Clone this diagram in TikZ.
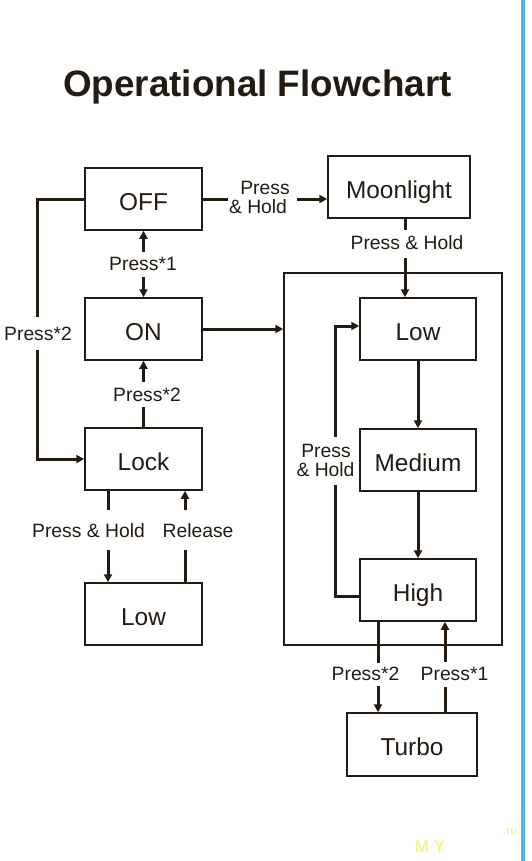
\documentclass[tikz,border=0pt]{standalone}
\usepackage{fontspec}
\setmainfont{Liberation Sans}
\usetikzlibrary{arrows.meta}
\definecolor{ink}{RGB}{35,27,18}
\definecolor{edgeblue}{RGB}{84,180,228}
\definecolor{wm}{RGB}{250,240,140}
\begin{document}
\begin{tikzpicture}[x=1pt,y=-1pt,
  box/.style={draw=ink, line width=1.5pt, minimum width=117pt, minimum height=62pt, inner sep=0pt,
    font=\fontsize{24.4}{24}\selectfont, text=ink, text height=22pt, text depth=0pt},
  lbl/.style={anchor=base, font=\fontsize{19.3}{19}\selectfont, text=ink, inner sep=0pt},
  conn/.style={draw=ink, line width=3pt},
  arr/.style={conn, -{Triangle[length=8pt,width=8pt]}},
]
\useasboundingbox (0,0) rectangle (532,861);
\fill[white] (0,0) rectangle (532,861);
\fill[edgeblue] (521,0) rectangle (525,861);

\node[anchor=base, text=ink, inner sep=0pt, font=\fontsize{36.8}{37}\selectfont\bfseries] (title) at (257.5,97) {Operational Flowchart};

% boxes
\node[box] (off) at (143.5,199) {OFF};
\node[box] (on) at (143.5,329) {ON};
\node[box] (lock) at (143.5,459) {Lock};
\node[box] (lowl) at (143.5,614) {Low};
\node[box, minimum width=142pt] (moon) at (399,187) {Moonlight};
\node[draw=ink, line width=1.5pt, minimum width=218pt, minimum height=372pt, inner sep=0pt] (grp) at (393,459) {};
\node[box, minimum width=116pt] (lowr) at (418,329) {Low};
\node[box, minimum width=116pt] (med) at (418,460) {Medium};
\node[box, minimum width=116pt] (high) at (418,590) {High};
\node[box, minimum width=130pt, minimum height=63pt] (turbo) at (412,744.5) {Turbo};

% labels
\node[lbl] (l1) at (143,270) {Press*1};
\node[lbl] (l2) at (38,340) {Press*2};
\node[lbl] (l3) at (147,401) {Press*2};
\node[lbl] (l4) at (88.5,537) {Press \& Hold};
\node[lbl] (l5) at (198,537) {Release};
\node[lbl] (l6a) at (265,194) {Press};
\node[lbl] (l6b) at (258,213) {\& Hold};
\node[lbl] (l7) at (407,249) {Press \& Hold};
\node[lbl] (l8a) at (326,457) {Press};
\node[lbl] (l8b) at (325.5,476) {\& Hold};
\node[lbl] (l9) at (365.5,680) {Press*2};
\node[lbl] (l10) at (454.5,680) {Press*1};

% break points
\coordinate (a1) at (37,317); \coordinate (a2) at (37,350);
\coordinate (b1) at (143.5,252); \coordinate (b2) at (143.5,277);
\coordinate (c1) at (143.5,407); \coordinate (c2) at (143.5,382);
\coordinate (d1) at (108,510); \coordinate (d2) at (108,550);
\coordinate (e1) at (185,550); \coordinate (e2) at (185,510);
\coordinate (f1) at (228,199); \coordinate (f2) at (297,199);
\coordinate (g1) at (405,230); \coordinate (g2) at (405,258);
\coordinate (h1) at (335,485); \coordinate (h2) at (335,437);
\coordinate (i1) at (378,663); \coordinate (i2) at (378,686);
\coordinate (j1) at (445,687); \coordinate (j2) at (445,662);

% connectors
\draw[conn] (off.west) -| (a1);
\draw[arr] (a2) |- (lock.west);
\draw[arr] (b1) -- (off.south);
\draw[arr] (b2) -- (on.north);
\draw[conn] (lock.north) -- (c1);
\draw[arr] (c2) -- (on.south);
\draw[conn] (lock.south -| d1) -- (d1);
\draw[arr] (d2) -- (d2 |- lowl.north);
\draw[conn] (lowl.north -| e1) -- (e1);
\draw[arr] (e2) -- (e2 |- lock.south);
\draw[conn] (off.east) -- (f1);
\draw[arr] (f2) -- (f2 -| moon.west);
\draw[conn] (moon.south -| g1) -- (g1);
\draw[arr] (g2) -- (g2 |- lowr.north);
\draw[arr] (on.east) -- (on.east -| grp.west);
\draw[arr] (lowr.south) -- (med.north);
\draw[arr] (med.south) -- (high.north);
\draw[conn] ([yshift=-6pt]high.west) -| (h1);
\draw[arr] (h2) |- ([yshift=3pt]lowr.west);
\draw[conn] (high.south -| i1) -- (i1);
\draw[arr] (i2) -- (i2 |- turbo.north);
\draw[conn] (turbo.north -| j1) -- (j1);
\draw[arr] (j2) -- (j2 |- high.south);

% watermark
\node[anchor=base, inner sep=0pt, text=wm, font=\fontsize{17}{17}\selectfont\bfseries] (wm1) at (430,852) {M Y};
\node[anchor=base, inner sep=0pt, text=wm, font=\fontsize{11}{11}\selectfont\bfseries] (wm2) at (510,834) {.ru};
\end{tikzpicture}
\end{document}
